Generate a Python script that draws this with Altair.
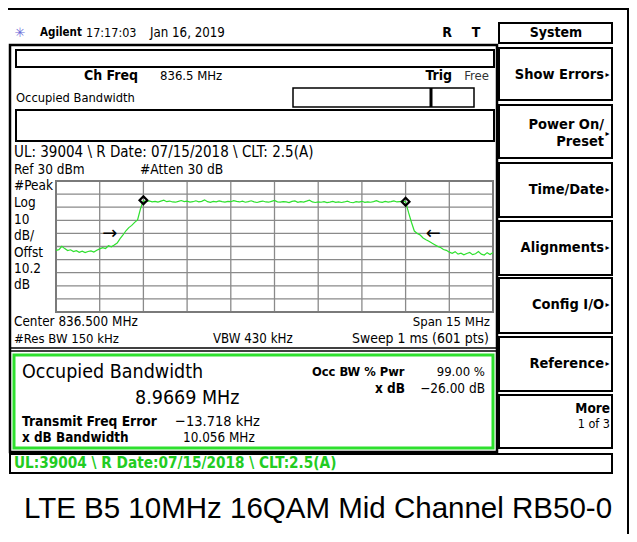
import altair as alt
import pandas as pd
import numpy as np

# ---------------- data ----------------
freq_start, freq_stop = 829.0, 844.0          # Center 836.5 MHz, Span 15 MHz
ref_level, bottom_level = 30, -70             # Ref 30 dBm, 10 dB/div

trace_db = [
    -23.0, -22.4, -19.8, -21.6, -23.1, -22.5, -23.9, -23.2, -24.4, -23.6,
    -24.7, -23.8, -23.3, -24.2, -22.9, -21.8, -20.9, -21.5, -19.4, -20.2,
    -18.8, -17.3, -14.0, -11.2, -8.0, -5.6, -3.9, -1.6, 0.3, 8.8,
    15.0,
    14.2, 14.8, 14.1, 14.5, 13.9, 14.6, 15.3, 14.2, 14.7, 14.0,
    13.8, 14.4, 15.1, 14.3, 14.6, 13.9, 14.2, 14.9, 14.1, 14.5,
    15.6, 14.2, 13.7, 14.4, 14.1, 14.8, 14.3, 13.9, 14.5, 14.2,
    15.0, 14.4, 14.0, 14.6, 13.8, 14.3, 14.9, 14.1, 13.6, 14.2,
    14.7, 14.0, 13.8, 14.5, 15.2, 14.1, 13.9, 14.3, 14.0, 13.5,
    14.4, 14.8, 13.7, 14.2, 13.9, 14.6, 15.4, 14.0, 13.6, 14.1,
    13.8, 14.3, 13.5, 13.9, 14.4, 13.7, 14.1, 13.6, 14.0, 14.6,
    13.8, 13.4, 14.2, 13.9, 14.5, 13.7, 14.1, 13.8, 14.3, 15.0,
    14.1, 13.7, 14.4, 13.9, 14.2, 14.8, 14.0, 14.3, 14.6,
    14.2,
    6.0, -1.5, -8.2, -10.0, -11.2, -13.5, -14.8, -16.0, -17.4, -18.6,
    -19.9, -20.8, -22.3, -22.9, -24.3, -25.2, -23.9, -25.8, -25.1, -26.4,
    -25.3, -24.6, -26.2, -25.5, -23.9, -25.8, -26.5, -24.7, -26.1, -24.6,
]
trace_freq = np.linspace(freq_start, freq_stop, len(trace_db))

grid_freq = [829.0, 830.5, 832.0, 833.5, 835.0, 836.5, 838.0, 839.5, 841.0, 842.5, 844.0]
grid_db = [30, 20, 10, 0, -10, -20, -30, -40, -50, -60, -70]

marker_freq = [832.0, 841.0]
marker_db = [15.3, 14.2]

arrow_freq = [830.85, 841.95]
arrow_db = [-10.7, -10.7]
arrow_text = ["→", "←"]

# ---------------- layout helpers (reference pixel coords, page margin 8) ----------------
OFF = 8
INST = "DejaVu Sans Condensed, Liberation Sans Narrow, DejaVu Sans, sans-serif"
one = pd.DataFrame({"k": [0]})
GREEN = "#2ee02e"

XS = alt.Scale(domain=[freq_start, freq_stop], range=[56 - OFF, 493 - OFF], nice=False, zero=False)
YS = alt.Scale(domain=[bottom_level, ref_level], range=[312 - OFF, 181 - OFF], nice=False, zero=False)


def txt(x, y, s, size=13.5, bold=False, align="left", color="black", font=INST):
    return alt.Chart(one).mark_text(
        text=s, align=align, baseline="middle", fontSize=size,
        fontWeight="bold" if bold else "normal", color=color, font=font,
    ).encode(x=alt.value(x - OFF), y=alt.value(y - OFF))


def box(x1, y1, x2, y2, stroke="black", sw=2.0):
    return alt.Chart(one).mark_rect(
        fill="white", fillOpacity=0, stroke=stroke, strokeWidth=sw
    ).encode(x=alt.value(x1 - OFF), x2=alt.value(x2 - OFF),
             y=alt.value(y1 - OFF), y2=alt.value(y2 - OFF))


def line(x1, y1, x2, y2, color="black", sw=2.0):
    return alt.Chart(one).mark_rule(color=color, strokeWidth=sw).encode(
        x=alt.value(x1 - OFF), x2=alt.value(x2 - OFF),
        y=alt.value(y1 - OFF), y2=alt.value(y2 - OFF))


layers = []

# grid
vgrid = alt.Chart(pd.DataFrame({"f": grid_freq})).mark_rule(color="#8a8a8a", strokeWidth=1.3).encode(
    x=alt.X("f:Q", scale=XS, axis=None),
    y=alt.YDatum(ref_level, scale=YS, axis=None),
    y2=alt.Y2Datum(bottom_level),
)
hgrid = alt.Chart(pd.DataFrame({"d": grid_db})).mark_rule(color="#8a8a8a", strokeWidth=1.3).encode(
    y=alt.Y("d:Q", scale=YS, axis=None),
    x=alt.XDatum(freq_start, scale=XS, axis=None),
    x2=alt.X2Datum(freq_stop),
)
layers += [vgrid, hgrid, box(56, 181, 493, 312, stroke="#7a7a7a", sw=2)]

# trace
trace = alt.Chart(pd.DataFrame({"f": trace_freq, "db": trace_db})).mark_line(
    color=GREEN, strokeWidth=1.2).encode(
    x=alt.X("f:Q", scale=XS, axis=None),
    y=alt.Y("db:Q", scale=YS, axis=None),
)
markers = alt.Chart(pd.DataFrame({"f": marker_freq, "db": marker_db})).mark_point(
    shape="diamond", filled=False, color="black", strokeWidth=2.2, size=60, opacity=1).encode(
    x=alt.X("f:Q", scale=XS, axis=None),
    y=alt.Y("db:Q", scale=YS, axis=None),
)
arrows = alt.Chart(pd.DataFrame({"f": arrow_freq, "db": arrow_db, "t": arrow_text})).mark_text(
    fontSize=18, color="black", font="DejaVu Sans").encode(
    x=alt.X("f:Q", scale=XS, axis=None),
    y=alt.Y("db:Q", scale=YS, axis=None),
    text="t:N",
)
layers += [trace, markers, arrows]

# outer frame (top & right)
layers += [line(0 + OFF, 9, 629, 9, sw=2), line(628, 8, 628, 534, sw=2)]

# header
layers += [
    txt(20, 33, "✳", size=13, color="#6a6ad8", font="DejaVu Sans", align="center"),
    txt(40, 33, "Agilent", size=11.5, bold=True),
    txt(86, 33, "17:17:03", size=12.5),
    txt(150, 33, "Jan 16, 2019", size=13.2),
    txt(447, 33, "R", size=14, bold=True, align="center"),
    txt(476, 33, "T", size=14, bold=True, align="center"),
]

# left panel
layers += [
    box(10, 45, 497, 452, sw=2.5),
    box(16, 50, 494, 67, sw=2),
    txt(84, 76, "Ch Freq", size=14, bold=True),
    txt(160, 76, "836.5 MHz", size=13),
    txt(452, 76, "Trig", size=14, bold=True, align="right"),
    txt(489, 76, "Free", size=13, align="right", color="#333333"),
    txt(16, 98, "Occupied Bandwidth", size=12.8),
    box(293, 88, 474, 107, sw=1.5),
    line(431, 88, 431, 107, sw=3),
    box(16, 110, 494, 141, sw=2),
    txt(14, 152, "UL: 39004 \\ R Date: 07/15/2018 \\ CLT: 2.5(A)", size=15),
    txt(14, 170, "Ref 30 dBm", size=13.5),
    txt(140, 170, "#Atten 30 dB", size=13.7),
    txt(14, 186, "#Peak", size=13.5),
    txt(14, 203, "Log", size=13.5),
    txt(14, 220, "10", size=13.5),
    txt(14, 236, "dB/", size=13.5),
    txt(14, 253, "Offst", size=13.5),
    txt(14, 269, "10.2", size=13.5),
    txt(14, 285, "dB", size=13.5),
    txt(14, 322, "Center 836.500 MHz", size=13.4),
    txt(490, 322, "Span 15 MHz", size=13.1, align="right"),
    txt(14, 339, "#Res BW 150 kHz", size=13),
    txt(213, 339, "VBW 430 kHz", size=13.2),
    txt(489, 339, "Sweep 1 ms (601 pts)", size=13.9, align="right"),
    line(10, 348, 497, 348, sw=1.5),
    line(10, 351, 497, 351, sw=1.5),
    box(14, 355, 493, 448, stroke=GREEN, sw=3),
    txt(22, 372, "Occupied Bandwidth", size=19.5),
    txt(135, 398, "8.9669 MHz", size=19.5),
    txt(22, 422, "Transmit Freq Error", size=13.7, bold=True),
    txt(175, 422, "−13.718 kHz", size=14.5),
    txt(22, 438, "x dB Bandwidth", size=13.4, bold=True),
    txt(183, 438, "10.056 MHz", size=13.4),
    txt(312, 372, "Occ BW % Pwr", size=12.8, bold=True),
    txt(485, 372, "99.00 %", size=13, align="right"),
    txt(405, 389, "x dB", size=13.5, bold=True, align="right"),
    txt(485, 389, "−26.00 dB", size=13.5, align="right"),
    box(10, 454, 612, 473, sw=2),
    txt(14, 463, "UL:39004 \\ R Date:07/15/2018 \\ CLT:2.5(A)", size=15.2, bold=True, color="#22cc22"),
]

# softkeys
keys = [(23, 43), (48, 100), (105, 158), (163, 217), (221, 275), (278, 333), (337, 391), (395, 448)]
for (a, b) in keys:
    layers.append(box(499, a, 612, b, sw=2))
layers += [txt(556, 33, "System", size=14, bold=True, align="center")]
for (s, y) in [("Show Errors", 75), ("Time/Date", 190), ("Alignments", 248), ("Config I/O", 305), ("Reference", 364)]:
    layers += [txt(604, y, s, size=14.5, bold=True, align="right"),
               txt(607.5, y, "▸", size=8, font="DejaVu Sans", align="center")]
layers += [
    txt(604, 125, "Power On/", size=14.5, bold=True, align="right"),
    txt(604, 142, "Preset", size=14.5, bold=True, align="right"),
    txt(607.5, 134, "▸", size=8, font="DejaVu Sans", align="center"),
    txt(610, 409, "More", size=13.5, bold=True, align="right"),
    txt(610, 424, "1 of 3", size=12.5, align="right"),
]

# caption
layers += [txt(318, 509, "LTE B5 10MHz 16QAM Mid Channel RB50-0", size=29.5,
               font="Liberation Sans, Arial, sans-serif", align="center")]

chart = alt.layer(*layers).properties(
    width=621, height=526, padding=0,
    autosize=alt.AutoSizeParams(type="none"),
    background="white",
).configure_view(strokeWidth=0)

chart.save("out.html", embed_options={"renderer": "svg", "actions": False})
